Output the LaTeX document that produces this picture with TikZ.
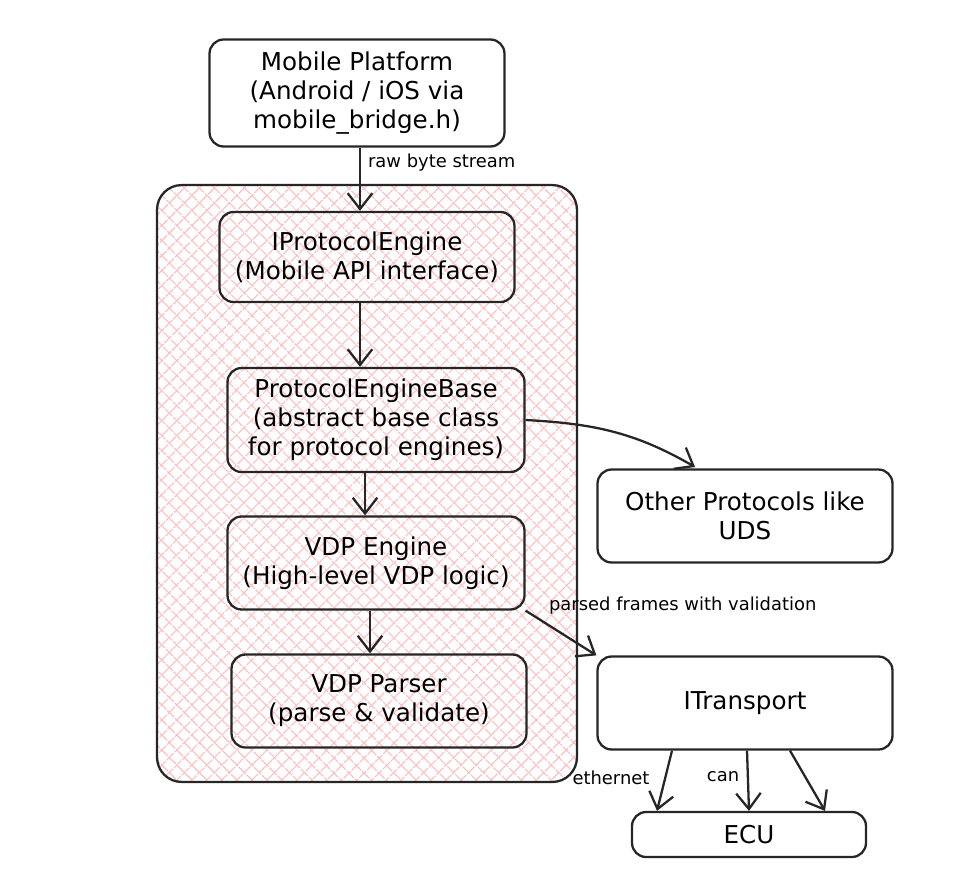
\documentclass[tikz,border=0pt]{standalone}
\usepackage{fontspec}
\setmainfont{DejaVu Sans}
\usetikzlibrary{arrows.meta,patterns.meta}
\newcommand\colorHatch{red!28}
\newcommand\colorLine{black!85}
\newcommand\hatchDist{6.5pt}
\tikzset{
	box/.style={draw=\colorLine, line width=1.3pt, rounded corners=8pt, align=center,
		font=\fontsize{14}{16.5}\selectfont, inner sep=0pt},
	hatchbox/.style={draw=\colorLine, line width=1.3pt, rounded corners=14pt,
		preaction={pattern={Lines[angle=45,distance=\hatchDist,line width=0.7pt]}, pattern color=\colorHatch},
		preaction={pattern={Lines[angle=-45,distance=\hatchDist,line width=0.7pt]}, pattern color=\colorHatch}},
	flow/.style={-{Straight Barb[length=9pt,width=14pt]}, line width=1.3pt, draw=\colorLine},
	lbl/.style={font=\fontsize{10.2}{12}\selectfont, inner sep=1pt},
}
\begin{document}
\begin{tikzpicture}[x=0.02cm, y=-0.02cm]
	\useasboundingbox (0,0) rectangle (972,876);
	
	% engine container
	\node (core) [hatchbox, minimum width=8.4cm, minimum height=11.94cm] at (367,483.5) {};
	
	\node (mob) [box, minimum width=5.9cm, minimum height=2.14cm] at (357,93)
		{Mobile Platform\\(Android / iOS via\\mobile\_bridge.h)};
	\node (ipe) [box, minimum width=5.9cm, minimum height=1.8cm] at (367,257)
		{IProtocolEngine\\(Mobile API interface)};
	\node (peb) [box, minimum width=5.94cm, minimum height=2.08cm] at (376,420)
		{ProtocolEngineBase\\(abstract base class\\for protocol engines)};
	\node (vdpe) [box, minimum width=5.94cm, minimum height=1.86cm] at (376,563)
		{VDP Engine\\(High-level VDP logic)};
	\node (vdpp) [box, minimum width=5.9cm, minimum height=1.86cm] at (379,701)
		{VDP Parser\\(parse \& validate)};
	\node (oth) [box, minimum width=5.9cm, minimum height=1.86cm] at (745,516)
		{Other Protocols like\\UDS};
	\node (itr) [box, minimum width=5.9cm, minimum height=1.86cm] at (745,703)
		{ITransport};
	\node (ecu) [box, minimum width=4.68cm, minimum height=0.9cm] at (749,834.5)
		{ECU};
	
	% main chain
	\draw[flow] (mob.south -| 360,0) -- (ipe.north -| 360,0);
	\node (rbs) [lbl, anchor=west] at (366,163) {raw byte stream};
	\draw[flow] (ipe.south -| 360,0) -- (peb.north -| 360,0);
	\draw[flow] (peb.south -| 365,0) -- (vdpe.north -| 365,0);
	\draw[flow] (vdpe.south -| 370,0) -- (vdpp.north -| 370,0);
	
	\coordinate (othin) at (695,467);
	\draw[flow] (peb.east) to[out=-3, in=150] (othin);
	
	\draw[flow] (vdpe.south east) -- (itr.north west);
	\node (pfv) [lbl, anchor=west] at (547,606) {parsed frames with validation};
	
	% transport links
	\foreach \sx/\ex in {672/657, 747/749, 790/825}{
		\draw[flow] (itr.south -| \sx,0) -- (ecu.north -| \ex,0);
	}
	\node (eth) [lbl] at (611,778) {ethernet};
	\node (can) [lbl] at (723,777) {can};
\end{tikzpicture}
\end{document}
